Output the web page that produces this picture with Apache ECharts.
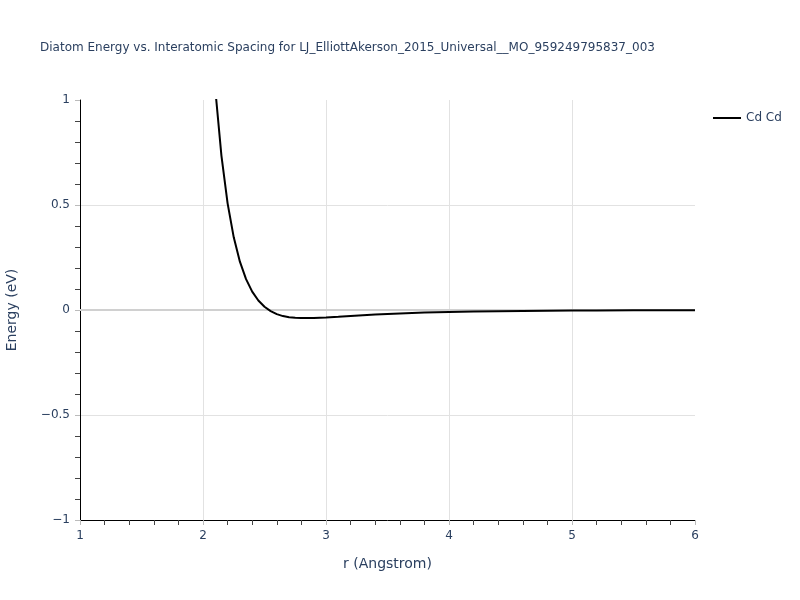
<!DOCTYPE html>
<html>
<head>
<meta charset="utf-8">
<script src="https://cdn.jsdelivr.net/npm/echarts@6/dist/echarts.min.js"></script>
<style>html,body{margin:0;padding:0;background:#fff}#c{width:800px;height:600px}</style>
</head>
<body>
<div id="c"></div>
<script>
const titleText = 'Diatom Energy vs. Interatomic Spacing for LJ_ElliottAkerson_2015_Universal__MO_959249795837_003';
const seriesName = 'Cd Cd';
const rValues = [2.05, 2.10, 2.15, 2.20, 2.25, 2.30, 2.35, 2.40, 2.45, 2.50, 2.55, 2.60, 2.65, 2.70, 2.75, 2.80, 2.85, 2.90, 3.0, 3.1, 3.2, 3.3, 3.4, 3.5, 3.6, 3.8, 4.0, 4.2, 4.4, 4.6, 4.8, 5.0, 5.2, 5.5, 5.8, 6.0];
const energyValues = [1.492, 1.050, 0.734, 0.508, 0.346, 0.230, 0.147, 0.0874, 0.0451, 0.0153, -0.0054, -0.0196, -0.0290, -0.0345, -0.0372, -0.0382, -0.0383, -0.0378, -0.0355, -0.0322, -0.0286, -0.0252, -0.0219, -0.0190, -0.0164, -0.0123, -0.0093, -0.0071, -0.0054, -0.0042, -0.0032, -0.0026, -0.0020, -0.0014, -0.0010, -0.0009];
const xTicks = {min: 1, max: 6, step: 1};
const yTicks = {min: -1, max: 1, step: 0.5};

const txt = '#2a3f5f';
const font = 'DejaVu Sans';
const chart = echarts.init(document.getElementById('c'), null, {renderer: 'canvas'});
chart.setOption({
  backgroundColor: '#fff',
  animation: false,
  title: {text: titleText, left: 35, top: 37,
    textStyle: {fontSize: 12, fontWeight: 'normal', color: txt, fontFamily: font}},
  legend: {left: 708, top: 107, icon: 'rect', itemWidth: 28, itemHeight: 2, itemGap: 6,
    textStyle: {fontSize: 12, color: txt, fontFamily: font}, data: [seriesName]},
  grid: {left: 80, right: 105, top: 100, bottom: 80, containLabel: false, outerBoundsMode: 'none'},
  xAxis: {type: 'value', min: xTicks.min, max: xTicks.max, interval: xTicks.step,
    name: 'r (Angstrom)', nameLocation: 'middle', nameGap: 37,
    nameTextStyle: {fontSize: 14, color: txt, fontFamily: font},
    axisLine: {show: true, onZero: false, lineStyle: {color: '#000', width: 1}},
    axisTick: {show: true, inside: false, length: 5, lineStyle: {color: '#bbb'}},
    minorTick: {show: true, splitNumber: 5, length: 5, lineStyle: {color: '#444'}},
    axisLabel: {fontSize: 12, color: txt, fontFamily: font, margin: 10},
    splitLine: {show: true, showMinLine: false, showMaxLine: false, lineStyle: {color: '#e2e2e2', width: 1}}},
  yAxis: {type: 'value', min: yTicks.min, max: yTicks.max, interval: yTicks.step,
    name: 'Energy (eV)', nameLocation: 'middle', nameGap: 61,
    nameTextStyle: {fontSize: 14, color: txt, fontFamily: font},
    axisLine: {show: true, onZero: false, lineStyle: {color: '#000', width: 1}},
    axisTick: {show: true, inside: false, length: 5, lineStyle: {color: '#bbb'}},
    minorTick: {show: true, splitNumber: 5, length: 5, lineStyle: {color: '#444'}},
    axisLabel: {fontSize: 12, color: txt, fontFamily: font, margin: 10,
      formatter: v => String(v).replace('-', '\u2212')},
    splitLine: {show: true, showMinLine: false, showMaxLine: false, lineStyle: {color: '#e2e2e2', width: 1}}},
  series: [{
    name: seriesName, type: 'line', showSymbol: false, symbol: 'none', smooth: false, clip: true,
    lineStyle: {color: '#000', width: 2}, itemStyle: {color: '#000'},
    data: rValues.map((r, i) => [r, energyValues[i]]),
    markLine: {silent: true, symbol: 'none', label: {show: false}, z: 1,
      lineStyle: {color: '#d0d0d0', width: 2, type: 'solid'},
      data: [{yAxis: 0}]},
    z: 3
  }]
});
</script>
</body>
</html>
